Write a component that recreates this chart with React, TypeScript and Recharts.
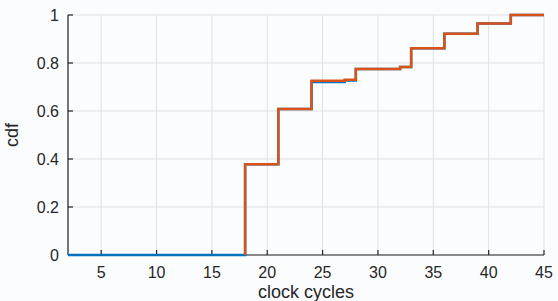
import React from 'react';
import { LineChart, Line, XAxis, YAxis, CartesianGrid, Label } from 'recharts';

// cycle counts where the cdf steps up
const blueCycles = [2, 18, 21, 24, 27, 28, 32, 33, 36, 39, 42, 45];
const blueCdf = [0, 0.378, 0.608, 0.721, 0.727, 0.775, 0.783, 0.861, 0.922, 0.965, 1, 1];

const orangeCycles = [18, 18, 21, 24, 27, 28, 32, 33, 36, 39, 42, 45];
const orangeCdf = [0, 0.378, 0.608, 0.726, 0.73, 0.775, 0.783, 0.861, 0.922, 0.965, 1, 1];

const xTicks = [5, 10, 15, 20, 25, 30, 35, 40, 45];
const yTicks = [0, 0.2, 0.4, 0.6, 0.8, 1];

const blueData = blueCycles.map((x, i) => ({ x, y: blueCdf[i] }));
const orangeData = orangeCycles.map((x, i) => ({ x, y: orangeCdf[i] }));

const ink = '#262626';
const font = '"Liberation Sans", Arial, Helvetica, sans-serif';

export default function App() {
    return (
        <div style={{ position: 'absolute', left: 0, top: 0, width: 558, height: 301, background: '#fbfcfe' }}>
            <LineChart width={558} height={301} margin={{ top: 15, right: 14, left: 0, bottom: 0 }}>
                <CartesianGrid stroke="#dfe1e5" strokeWidth={1} />
                <XAxis
                    dataKey="x"
                    type="number"
                    domain={[2, 45]}
                    ticks={xTicks}
                    height={46}
                    axisLine={{ stroke: ink, strokeWidth: 1.2 }}
                    tickLine={{ stroke: ink, strokeWidth: 1.2 }}
                    tickSize={-5}
                    tickMargin={17}
                    tick={{ fill: ink, fontSize: 16, fontFamily: font }}
                >
                    <Label value="clock cycles" position="insideBottom" offset={3} fill={ink} fontSize={18} fontFamily={font} />
                </XAxis>
                <XAxis
                    xAxisId="top"
                    orientation="top"
                    type="number"
                    domain={[2, 45]}
                    ticks={xTicks}
                    height={0}
                    axisLine={{ stroke: ink, strokeWidth: 1.2 }}
                    tickLine={{ stroke: ink, strokeWidth: 1.2 }}
                    tickSize={-5}
                    tickFormatter={() => ''}
                />
                <YAxis
                    type="number"
                    domain={[0, 1]}
                    ticks={yTicks}
                    width={68}
                    axisLine={{ stroke: ink, strokeWidth: 1.2 }}
                    tickLine={{ stroke: ink, strokeWidth: 1.2 }}
                    tickSize={-5}
                    tickMargin={14}
                    tick={{ fill: ink, fontSize: 16, fontFamily: font }}
                    tickFormatter={(v) => String(v)}
                    label={({ viewBox }: any) => (
                        <text
                            x={viewBox.x + 18}
                            y={viewBox.y + viewBox.height / 2}
                            transform={`rotate(-90 ${viewBox.x + 18} ${viewBox.y + viewBox.height / 2})`}
                            textAnchor="middle"
                            fill={ink}
                            fontSize={18}
                            fontFamily={font}
                        >
                            cdf
                        </text>
                    )}
                />
                <YAxis
                    yAxisId="right"
                    orientation="right"
                    type="number"
                    domain={[0, 1]}
                    ticks={yTicks}
                    width={0}
                    axisLine={{ stroke: ink, strokeWidth: 1.2 }}
                    tickLine={{ stroke: ink, strokeWidth: 1.2 }}
                    tickSize={-5}
                    tickFormatter={() => ''}
                />
                <Line
                    data={blueData}
                    dataKey="y"
                    type="stepAfter"
                    stroke="#0072BD"
                    strokeWidth={2.5}
                    dot={false}
                    isAnimationActive={false}
                    zIndex={600}
                />
                <Line
                    data={orangeData}
                    dataKey="y"
                    type="stepAfter"
                    stroke="#D95319"
                    strokeWidth={2.5}
                    dot={false}
                    isAnimationActive={false}
                    zIndex={610}
                />
            </LineChart>
        </div>
    );
}
